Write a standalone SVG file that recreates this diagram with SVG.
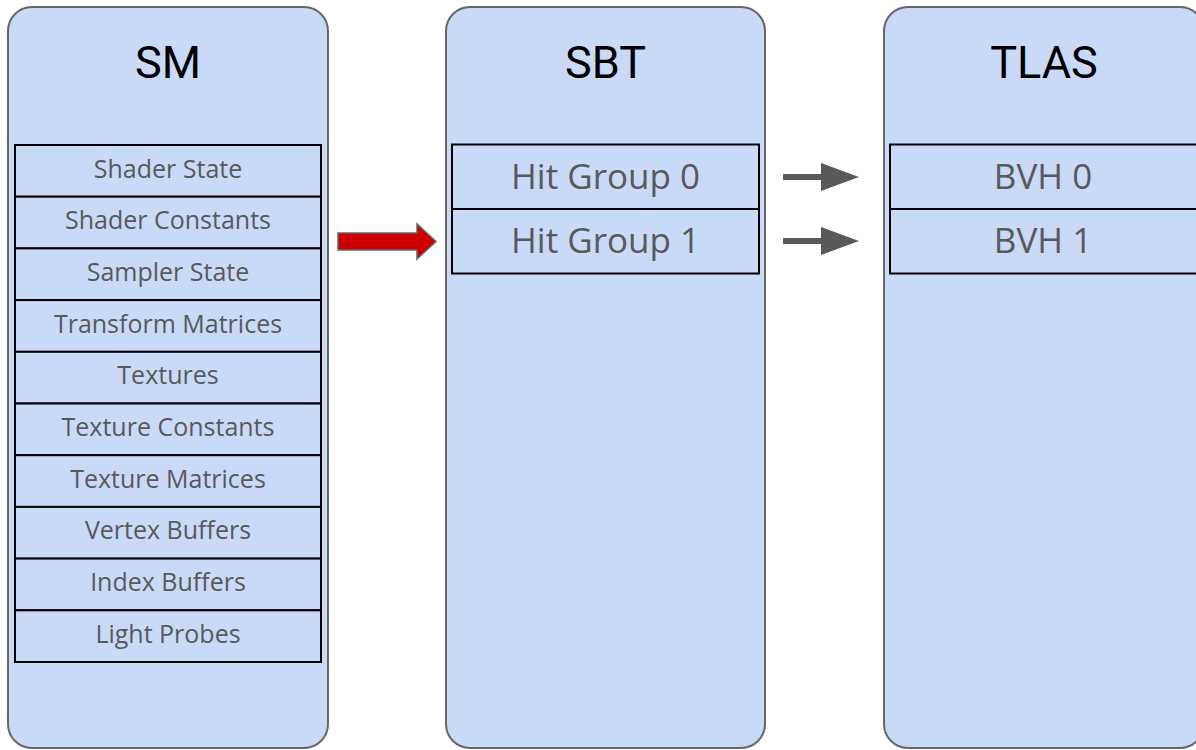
<svg xmlns="http://www.w3.org/2000/svg" width="1196" height="750" viewBox="0 0 1196 750">
<style>
.panel{fill:#c9daf8;stroke:#666666;stroke-width:2}
.row{fill:#c9daf8;stroke:#000000;stroke-width:2}
.title{font-family:Roboto,"Liberation Sans",sans-serif;font-size:45px;fill:#000000;text-anchor:middle}
.item{font-family:"Open Sans","Noto Sans",sans-serif;font-size:25px;fill:#595959;text-anchor:middle}
.big{font-family:"Open Sans","Noto Sans",sans-serif;font-size:35px;fill:#595959;text-anchor:middle}
.garrow{fill:#595959}
</style>
<rect width="1196" height="750" fill="#ffffff"/>
<g id="SM">
<rect class="panel" x="8" y="7" width="320" height="741" rx="24"/>
<text class="title" x="168" y="78">SM</text>
<rect class="row" x="15" y="145" width="306" height="51.7"/>
<rect class="row" x="15" y="196.7" width="306" height="51.7"/>
<rect class="row" x="15" y="248.4" width="306" height="51.7"/>
<rect class="row" x="15" y="300.1" width="306" height="51.7"/>
<rect class="row" x="15" y="351.8" width="306" height="51.7"/>
<rect class="row" x="15" y="403.5" width="306" height="51.7"/>
<rect class="row" x="15" y="455.2" width="306" height="51.7"/>
<rect class="row" x="15" y="506.9" width="306" height="51.7"/>
<rect class="row" x="15" y="558.6" width="306" height="51.7"/>
<rect class="row" x="15" y="610.3" width="306" height="51.7"/>
<text class="item" x="168" y="177.5">Shader State</text>
<text class="item" x="168" y="229.2">Shader Constants</text>
<text class="item" x="168" y="280.9">Sampler State</text>
<text class="item" x="168" y="332.6">Transform Matrices</text>
<text class="item" x="168" y="384.3">Textures</text>
<text class="item" x="168" y="436">Texture Constants</text>
<text class="item" x="168" y="487.7">Texture Matrices</text>
<text class="item" x="168" y="539.4">Vertex Buffers</text>
<text class="item" x="168" y="591.1">Index Buffers</text>
<text class="item" x="168" y="642.8">Light Probes</text>
</g>
<g id="SBT">
<rect class="panel" x="446" y="7" width="319" height="741" rx="24"/>
<text class="title" x="605.5" y="78">SBT</text>
<rect class="row" x="452" y="144.5" width="307" height="64.5"/>
<rect class="row" x="452" y="209" width="307" height="64.5"/>
<text class="big" x="605.5" y="189">Hit Group 0</text>
<text class="big" x="605.5" y="253">Hit Group 1</text>
</g>
<g id="TLAS">
<rect class="panel" x="884" y="7" width="320" height="741" rx="24"/>
<text class="title" x="1044" y="78">TLAS</text>
<rect class="row" x="890" y="144.5" width="310" height="64.5"/>
<rect class="row" x="890" y="209" width="310" height="64.5"/>
<text class="big" x="1043" y="189">BVH 0</text>
<text class="big" x="1043" y="253">BVH 1</text>
</g>
<g id="connectors">
<path d="M338,233 L417,233 L417,224 L436,241.5 L417,259 L417,250 L338,250 Z" fill="#cc0000" stroke="#666666" stroke-width="1.5"/>
<rect class="garrow" x="783" y="174" width="39" height="6"/>
<polygon class="garrow" points="821,163 859,177 821,191"/>
<rect class="garrow" x="783" y="238" width="39" height="6"/>
<polygon class="garrow" points="821,227 859,241 821,255"/>
</g>
</svg>
